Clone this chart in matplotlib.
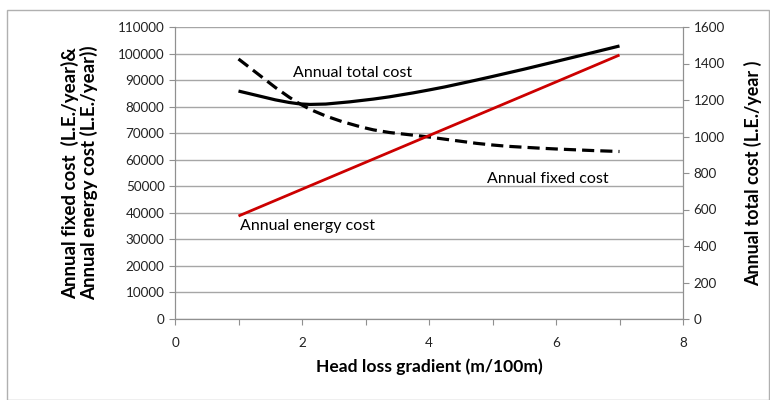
import matplotlib.pyplot as plt
from matplotlib.patches import Rectangle, PathPatch
from matplotlib.path import Path
from matplotlib.ticker import MultipleLocator, FuncFormatter

plt.rcParams['font.family'] = ['Lato', 'DejaVu Sans']

gradient = [1, 2, 3, 4, 5, 6, 7]
fixed_cost = [97950, 80600, 71950, 68550, 65550, 64050, 63100]
energy_cost = [38800, 48900, 59000, 69100, 79200, 89300, 99450]
total_cost = [1249, 1178, 1200, 1255, 1329, 1411, 1496]


def smooth_line(ax, xs, ys, **kw):
    # Excel-like smoothed line: cubic bezier segments through the data points
    verts = [(xs[0], ys[0])]
    codes = [Path.MOVETO]
    n = len(xs)
    for i in range(n - 1):
        x0, y0 = (xs[i - 1], ys[i - 1]) if i > 0 else (xs[i], ys[i])
        x3, y3 = (xs[i + 2], ys[i + 2]) if i + 2 < n else (xs[i + 1], ys[i + 1])
        c1 = (xs[i] + (xs[i + 1] - x0) / 6, ys[i] + (ys[i + 1] - y0) / 6)
        c2 = (xs[i + 1] - (x3 - xs[i]) / 6, ys[i + 1] - (y3 - ys[i]) / 6)
        verts += [c1, c2, (xs[i + 1], ys[i + 1])]
        codes += [Path.CURVE4] * 3
    ax.add_patch(PathPatch(Path(verts, codes), fill=False, capstyle='butt', **kw))


fig = plt.figure(figsize=(7.7, 4.0), dpi=100)
fig.patches.append(Rectangle((7 / 770, 0.0), 762 / 770, 1 - 10 / 400,
                             transform=fig.transFigure, fill=False,
                             edgecolor='#b0b0b0', lw=1))

ax = fig.add_axes([175 / 770, 81 / 400, 508 / 770, 292 / 400])
ax2 = ax.twinx()

smooth_line(ax, gradient, fixed_cost, edgecolor='black', lw=2.3, ls=(0, (3.8, 1.9)))
smooth_line(ax, gradient, energy_cost, edgecolor='#cc0000', lw=2.0)
smooth_line(ax2, gradient, total_cost, edgecolor='black', lw=2.3)

ax.set_xlim(0, 8)
ax.set_ylim(0, 110000)
ax2.set_ylim(0, 1600)
ax.xaxis.set_major_locator(MultipleLocator(1))
ax.xaxis.set_major_formatter(FuncFormatter(lambda v, p: f"{v:.0f}" if int(v) % 2 == 0 else ""))
ax.yaxis.set_major_locator(MultipleLocator(10000))
ax2.yaxis.set_major_locator(MultipleLocator(200))

ax.grid(axis='y', color='#a6a6a6', lw=1)
ax.set_axisbelow(True)
for a in (ax, ax2):
    a.spines['top'].set_visible(False)
    for s in ('left', 'bottom', 'right'):
        a.spines[s].set_color('#909090')
    a.tick_params(colors='#909090', labelcolor='#222222', labelsize=9.7, length=4)
ax.tick_params(axis='x', pad=9)

ax.set_xlabel("Head loss gradient (m/100m)", fontsize=12.6, fontweight='bold', labelpad=7)
ax.set_ylabel("Annual fixed cost  (L.E./year)&\nAnnual energy cost (L.E./year))",
              fontsize=13.5, fontweight='bold', labelpad=14, linespacing=1.1)
ax2.set_ylabel("Annual total cost (L.E./year )", fontsize=12.9, fontweight='bold', labelpad=14)

ax.text(2.8, 92700, "Annual total cost", fontsize=11.5, ha='center', va='center')
ax.text(5.87, 52700, "Annual fixed cost", fontsize=11.5, ha='center', va='center')
ax.text(2.08, 35000, "Annual energy cost", fontsize=11.5, ha='center', va='center')

fig.savefig("out.png", dpi=100)
